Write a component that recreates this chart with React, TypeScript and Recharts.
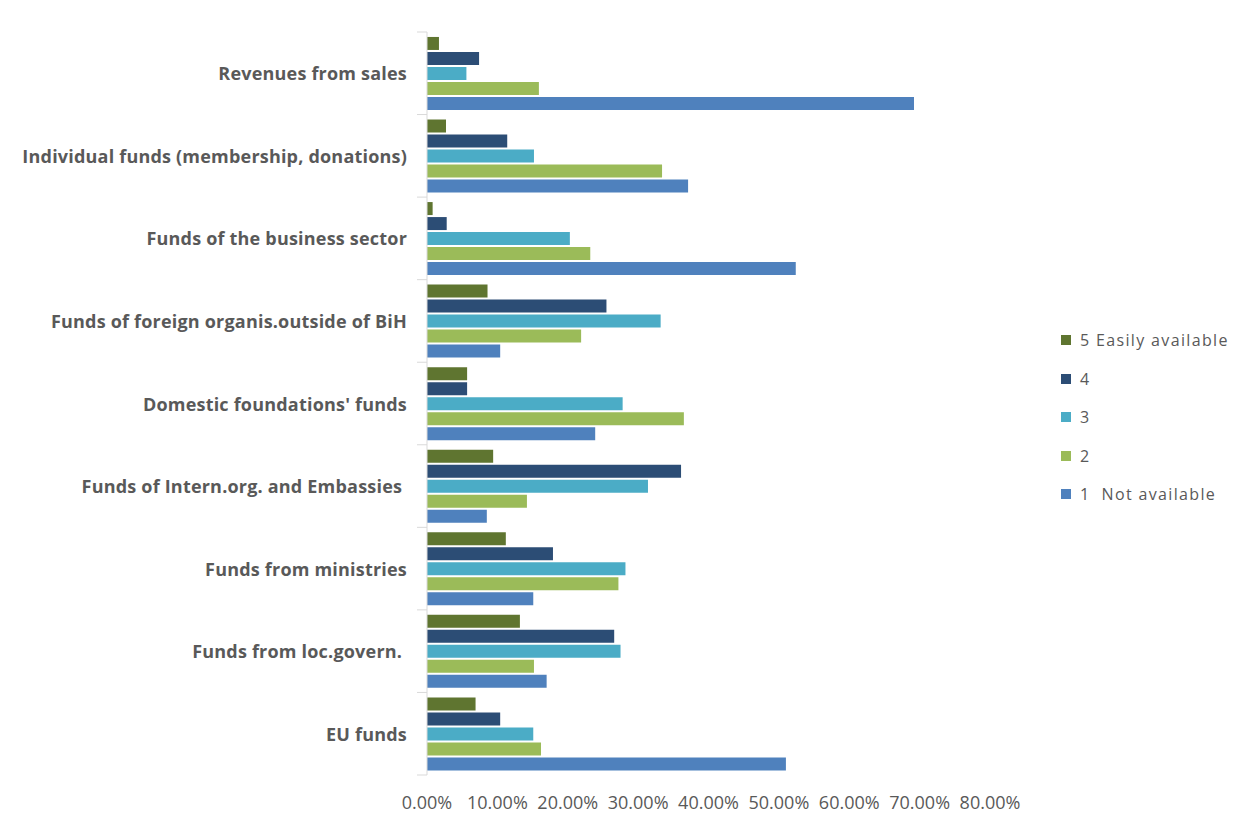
import { BarChart, Bar, XAxis, YAxis } from "recharts";

const categories = [
  "Revenues from sales",
  "Individual funds (membership, donations)",
  "Funds of the business sector",
  "Funds of foreign organis.outside of BiH",
  "Domestic foundations' funds",
  "Funds of Intern.org. and Embassies ",
  "Funds from ministries",
  "Funds from loc.govern. ",
  "EU funds",
];

// values in %
const easily5 = [1.7, 2.7, 0.8, 8.6, 5.7, 9.4, 11.2, 13.2, 6.9];
const level4 = [7.4, 11.4, 2.8, 25.5, 5.7, 36.1, 17.9, 26.6, 10.4];
const level3 = [5.6, 15.2, 20.3, 33.2, 27.8, 31.4, 28.2, 27.5, 15.1];
const level2 = [15.9, 33.4, 23.2, 21.9, 36.5, 14.2, 27.2, 15.2, 16.2];
const notAvail1 = [69.2, 37.1, 52.4, 10.4, 23.9, 8.5, 15.1, 17.0, 51.0];

const xTicks = [0, 10, 20, 30, 40, 50, 60, 70, 80];

const series = [
  { key: "s5", name: "5 Easily available", color: "#5F7530" },
  { key: "s4", name: "4", color: "#2C4D75" },
  { key: "s3", name: "3", color: "#4BACC6" },
  { key: "s2", name: "2", color: "#9BBB59" },
  { key: "s1", name: "1  Not available", color: "#4F81BD" },
];

const data = categories.map((name, i) => ({
  name,
  s5: easily5[i],
  s4: level4[i],
  s3: level3[i],
  s2: level2[i],
  s1: notAvail1[i],
}));

const W = 1252;
const H = 825;
const PLOT_LEFT = 427;
const PLOT_RIGHT = 990;
const PLOT_TOP = 32;
const PLOT_BOTTOM = 775;
const HALF_BAND = (PLOT_BOTTOM - PLOT_TOP) / categories.length / 2;
const TEXT = "#595959";
const AXIS = "#d9d9d9";
const FONT = "'Open Sans', sans-serif";

function CategoryTick({ x, y, payload, index }: any) {
  return (
    <g>
      <line x1={PLOT_LEFT - 10} x2={PLOT_LEFT} y1={y - HALF_BAND} y2={y - HALF_BAND} stroke={AXIS} />
      {index === categories.length - 1 && (
        <line x1={PLOT_LEFT - 10} x2={PLOT_LEFT} y1={y + HALF_BAND} y2={y + HALF_BAND} stroke={AXIS} />
      )}
      <text x={x} y={y} textAnchor="end" dominantBaseline="central"
        fill={TEXT} fontSize={18} fontWeight={700} fontFamily={FONT}
        style={{ whiteSpace: "pre", letterSpacing: 0.2 }}>
        {payload.value}
      </text>
    </g>
  );
}

export default function App() {
  return (
    <div style={{ position: "relative", margin: -8, width: W, height: H, background: "#fff" }}>
      <div style={{
        position: "absolute", left: 7, top: 7, right: 0, bottom: 0,
        borderTop: `1px solid ${AXIS}`, borderLeft: `1px solid ${AXIS}`,
      }} />
      <BarChart width={W} height={H} data={data} layout="vertical"
        margin={{ top: PLOT_TOP, right: W - PLOT_RIGHT, bottom: 0, left: 0 }}
        barCategoryGap="6%" barGap={2}>
        <XAxis type="number" domain={[0, 80]} ticks={xTicks} interval={0}
          height={H - PLOT_BOTTOM}
          axisLine={false} tickLine={false} tickSize={6} tickMargin={15}
          tickFormatter={(v: number) => `${v.toFixed(2)}%`}
          tick={{ fill: TEXT, fontSize: 18, fontFamily: FONT }} />
        <YAxis type="category" dataKey="name" width={PLOT_LEFT}
          axisLine={{ stroke: AXIS }} tickLine={false} tickSize={10} tickMargin={10}
          interval={0} tick={<CategoryTick />} />
        {series.map(s => (
          <Bar key={s.key} dataKey={s.key} name={s.name} fill={s.color} isAnimationActive={false} />
        ))}
      </BarChart>
      <div style={{ position: "absolute", left: 1061, top: 321 }}>
        {series.map(s => (
          <div key={s.key} style={{ display: "flex", alignItems: "center", height: 38.5 }}>
            <span style={{ width: 10, height: 10, background: s.color, marginRight: 9, display: "inline-block" }} />
            <span style={{ color: TEXT, fontSize: 16, fontFamily: FONT, letterSpacing: 1.35, whiteSpace: "pre" }}>
              {s.name}
            </span>
          </div>
        ))}
      </div>
    </div>
  );
}
